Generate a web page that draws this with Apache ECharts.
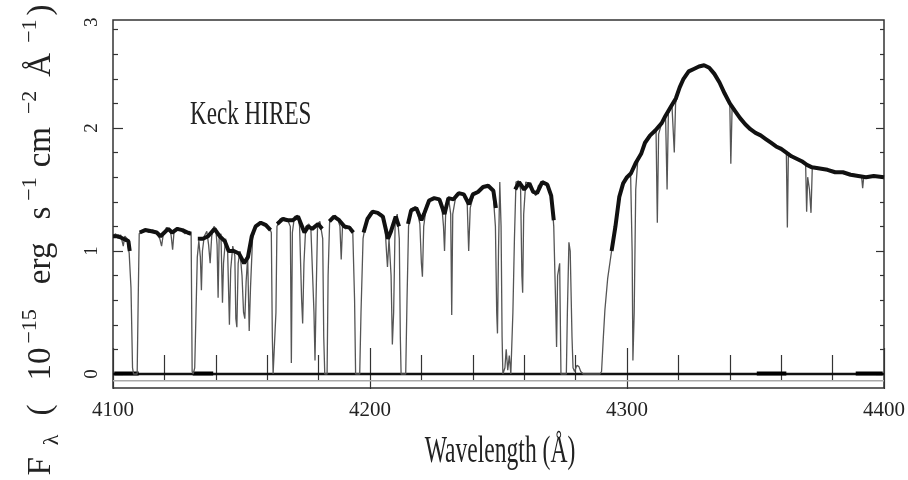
<!DOCTYPE html>
<html><head><meta charset="utf-8">
<script src="https://cdn.jsdelivr.net/npm/echarts@6/dist/echarts.min.js"></script>
<style>html,body{margin:0;padding:0;background:#fff}#c{width:908px;height:480px}</style>
</head><body><div id="c"></div>
<script>
// ---- data (wavelength in Angstrom, flux in 1e-15 erg/s/cm2/A) ----
const xRange = [4100, 4400];
const yRange = [-0.114, 2.878];
const yMajorTicks = [0, 1, 2];
const yMinorTicks = [0.2, 0.4, 0.6, 0.8, 1.2, 1.4, 1.6, 1.8, 2.2, 2.4, 2.6, 2.8];
const yLabelValues = [0, 1, 2, 2.86];
const yLabelTexts = ['0', '1', '2', '3'];

// full spectrum (thin trace incl. absorption lines)
const spectrum = [
[4100.0,1.12],[4101.0,1.14],[4102.0,1.10],[4103.0,1.13],[4104.0,1.04],[4104.6,1.12],[4105.5,1.10],[4106.3,0.98],[4107.0,0.70],[4107.6,0.05],[4108.0,0.00],[4109.4,0.00],[4109.8,0.60],[4110.2,1.14],
[4111.0,1.16],[4112.5,1.17],[4114.0,1.15],[4115.5,1.17],[4117.0,1.14],[4118.2,1.10],[4118.9,1.04],[4119.6,1.14],[4120.8,1.19],[4122.0,1.18],[4122.6,1.13],[4123.2,1.01],[4123.8,1.17],[4125.0,1.19],[4126.5,1.17],[4128.0,1.14],[4129.5,1.16],[4130.4,1.14],
[4130.8,0.02],[4131.2,0.00],[4131.8,0.05],[4132.3,0.50],[4132.8,0.95],[4133.4,1.08],[4134.0,0.95],[4134.4,0.68],[4134.8,1.00],[4135.5,1.12],[4136.5,1.16],[4137.2,1.05],[4137.8,0.90],[4138.4,1.12],[4139.3,1.20],[4140.0,1.18],
[4140.5,1.05],[4140.9,0.62],[4141.3,1.10],[4142.0,1.14],[4142.6,0.58],[4143.0,0.90],[4143.8,1.10],[4144.6,1.00],[4145.3,0.40],[4145.8,0.85],[4146.6,1.04],[4147.4,0.96],[4147.8,0.45],[4148.2,0.38],[4148.7,0.90],[4149.4,1.00],[4150.2,0.80],[4150.8,0.50],[4151.3,0.45],[4151.8,0.75],[4152.4,0.95],[4153.0,0.35],[4153.5,0.70],[4154.3,1.10],[4155.5,1.20],[4157.0,1.23],[4158.5,1.23],[4160.0,1.20],[4161.0,1.18],
[4161.6,1.15],[4162.0,0.30],[4162.3,0.00],[4163.0,0.00],[4163.4,0.50],[4163.8,1.20],[4165.0,1.26],[4166.5,1.27],[4168.0,1.25],[4169.0,1.20],[4169.4,0.09],[4169.8,1.15],[4170.6,1.28],[4171.8,1.29],[4172.6,1.20],[4173.4,0.60],[4173.8,0.41],[4174.3,0.90],[4175.0,1.20],[4176.2,1.22],[4177.0,1.18],[4178.2,0.50],[4178.6,0.11],[4179.0,0.60],[4179.6,1.22],[4180.5,1.24],[4181.6,1.10],[4182.0,0.30],[4182.4,0.00],[4183.3,0.00],[4183.7,0.80],[4184.3,1.25],[4185.5,1.28],[4186.5,1.29],[4187.5,1.26],[4188.3,1.20],[4188.8,0.93],[4189.3,1.20],[4190.5,1.18],[4192.0,1.20],[4193.3,1.15],[4194.0,0.60],[4194.4,0.00],[4196.0,0.00],[4196.5,0.50],[4197.3,1.10],[4198.5,1.25],
[4200.0,1.31],[4201.5,1.32],[4203.0,1.31],[4204.5,1.30],[4205.7,1.25],[4206.4,1.00],[4206.8,0.87],[4207.4,1.10],[4208.2,0.80],[4208.7,0.24],[4209.2,0.50],[4209.8,1.25],[4210.6,1.30],[4211.4,1.10],[4211.8,0.30],[4212.1,0.00],[4213.9,0.00],[4214.4,0.60],[4215.0,1.20],[4216.0,1.34],[4217.5,1.36],[4218.6,1.30],[4219.4,1.22],[4220.0,0.90],[4220.4,0.79],[4220.9,1.20],[4222.0,1.38],[4223.5,1.42],[4225.0,1.43],[4226.5,1.42],[4227.8,1.40],[4228.6,1.20],[4229.0,1.00],[4229.5,1.35],[4230.5,1.44],[4231.4,1.30],[4231.8,0.48],[4232.2,1.30],[4233.5,1.46],[4235.0,1.47],[4236.5,1.46],[4237.8,1.40],[4238.4,1.00],[4239.0,1.35],[4240.5,1.47],[4242.0,1.48],[4243.5,1.52],[4245.0,1.53],[4246.5,1.52],[4247.8,1.50],[4248.8,1.20],[4249.3,0.50],[4249.6,0.33],[4250.0,1.00],[4250.5,1.56],[4251.0,1.20],[4251.4,0.30],[4251.7,0.00],[4252.5,0.05],[4253.0,0.20],[4253.6,0.03],[4254.2,0.15],[4254.8,0.00],[4255.2,0.00],[4255.6,0.50],[4256.2,1.10],[4256.8,1.56],[4257.8,1.57],[4258.6,1.50],[4259.1,0.80],[4259.4,0.66],[4259.8,1.30],[4260.6,1.56],[4262.0,1.55],[4263.5,1.48],[4264.5,1.45],[4265.5,1.53],[4267.0,1.56],[4268.5,1.55],[4269.8,1.50],[4270.8,1.40],[4271.5,1.20],[4272.2,0.60],[4272.6,0.22],[4273.0,0.80],[4273.8,0.90],[4274.3,0.00],[4276.4,0.00],[4276.8,0.50],[4277.4,1.07],[4277.9,1.00],[4278.6,0.30],[4279.0,0.05],[4279.6,0.02],[4280.5,0.07],[4281.3,0.06],[4282.0,0.02],[4283.0,0.00],[4289.5,0.00],[4290.1,0.02],[4290.8,0.30],[4291.4,0.52],[4292.5,0.78],[4294.0,1.00],[4295.5,1.20],[4297.1,1.45],[4298.5,1.55],
[4300.0,1.60],[4301.4,1.63],[4302.0,1.00],[4302.3,0.11],[4302.8,0.50],[4303.4,1.50],[4304.2,1.74],[4305.5,1.79],[4307.0,1.88],[4308.5,1.93],[4310.0,1.96],[4311.3,1.98],[4311.8,1.23],[4312.3,1.95],[4313.5,2.04],[4315.0,2.10],[4315.6,1.50],[4316.1,2.12],[4317.5,2.18],[4318.4,1.80],[4318.9,2.20],[4320.5,2.33],[4322.0,2.40],[4324.0,2.46],[4326.0,2.48],[4328.0,2.50],[4330.0,2.51],[4331.5,2.50],[4333.0,2.47],[4334.5,2.42],[4336.0,2.37],[4338.0,2.28],[4340.0,2.20],[4340.4,1.71],[4340.9,2.17],[4342.0,2.14],[4344.0,2.08],[4346.0,2.03],[4348.0,1.99],[4350.0,1.96],[4352.0,1.94],[4354.0,1.91],[4356.0,1.88],[4358.0,1.85],[4360.0,1.83],[4362.0,1.80],[4362.4,1.19],[4362.8,1.80],[4364.0,1.77],[4366.0,1.75],[4368.0,1.73],[4369.5,1.71],[4369.9,1.32],[4370.3,1.60],[4371.0,1.50],[4371.6,1.31],[4372.1,1.68],[4374.0,1.68],[4377.0,1.66],[4380.0,1.65],[4383.0,1.64],[4386.0,1.63],[4389.0,1.62],[4391.3,1.60],[4391.7,1.51],[4392.1,1.60],[4395.0,1.61],[4398.0,1.60],[4400.0,1.60]
];

// noisy continuum band (thick trace), null = gap
const band = [
[4100,1.12],[4102,1.12],[4104,1.10],[4106,1.08],[4106.5,1.00],[4106.6,null],
[4110.4,1.15],[4112.5,1.17],[4115,1.16],[4117,1.15],[4118.5,1.12],[4120,1.15],[4121.5,1.18],[4123,1.15],[4125,1.18],[4127,1.17],[4129,1.15],[4130.4,1.14],[4130.5,null],
[4133,1.10],[4135,1.10],[4137,1.12],[4139.5,1.18],[4141.5,1.12],[4143.5,1.08],[4145,1.00],[4147,1.00],[4149,0.98],[4151,0.90],[4152.5,0.95],[4154,1.12],[4155.5,1.20],[4157.5,1.23],[4159.5,1.21],[4161.3,1.17],[4161.4,null],
[4163.9,1.22],[4166,1.26],[4168,1.25],[4170,1.25],[4172,1.28],[4174.5,1.15],[4176,1.20],[4177.5,1.18],[4179.8,1.22],[4181.4,1.18],[4181.5,null],
[4184.2,1.24],[4186,1.28],[4188,1.25],[4190,1.20],[4192,1.19],[4193.5,1.15],[4193.6,null],
[4197.5,1.15],[4199,1.26],[4201,1.32],[4203,1.31],[4205,1.28],[4207,1.10],[4208,1.15],[4210,1.28],[4211.3,1.20],[4211.4,null],
[4214.8,1.22],[4216,1.33],[4218,1.35],[4220,1.25],[4221,1.30],[4223,1.41],[4225,1.43],[4227,1.42],[4229,1.30],[4230.5,1.43],[4232.5,1.42],[4234.5,1.47],[4236.5,1.46],[4238.5,1.38],[4240,1.46],[4242,1.48],[4244,1.52],[4246,1.53],[4248,1.49],[4249,1.35],[4249.1,null],
[4256.5,1.50],[4258,1.56],[4260,1.50],[4262,1.55],[4263.5,1.48],[4265,1.47],[4267,1.56],[4269,1.54],[4270.5,1.45],[4271.5,1.25],[4271.6,null],
[4294,1.00],[4295.5,1.20],[4297,1.44],[4298.5,1.55],[4300,1.60],[4301.5,1.63],[4303.5,1.72],[4305.5,1.79],[4307,1.88],[4309,1.94],[4311,1.98],[4313.5,2.04],[4315,2.10],[4317,2.17],[4319,2.24],[4320.5,2.33],[4322,2.40],[4324,2.46],[4326,2.48],[4328,2.50],[4330,2.51],[4332,2.49],[4334,2.44],[4336,2.37],[4338,2.28],[4340,2.20],[4342,2.14],[4344,2.08],[4346,2.03],[4348,1.99],[4350,1.96],[4352,1.94],[4354,1.91],[4356,1.88],[4358,1.85],[4360,1.83],[4362,1.80],[4364,1.77],[4366,1.75],[4368,1.73],[4370,1.70],[4372,1.68],[4375,1.67],[4378,1.66],[4381,1.64],[4384,1.64],[4387,1.62],[4390,1.61],[4393,1.60],[4396,1.61],[4400,1.60]
];

// zero level and its darker noisy stretches
const zeroLevel = [[4100, 0], [4400, 0]];
const zeroNoise = [[4100.5,0.004],[4110,0.004],[4110.1,null],[4131,0.004],[4139,0.004],[4139.1,null],[4350.5,0.004],[4362,0.004],[4362.1,null],[4389,0.004],[4399.5,0.004]];
const zeroShadow = [[4100, -0.055], [4400, -0.055]];

// ---- chart ----
const chart = echarts.init(document.getElementById('c'), null, {renderer: 'canvas'});
const tickColor = '#333';
const serif = 'Liberation Serif';

function xAx(pos, majLen, minLen, showLabel) {
  return {
    type: 'value', position: pos, min: xRange[0], max: xRange[1], interval: 100,
    axisLine: {show: false},
    axisTick: {show: true, inside: true, length: majLen, lineStyle: {color: tickColor, width: 1.2}},
    minorTick: {show: true, splitNumber: 5, length: minLen, lineStyle: {color: tickColor, width: 1.2}},
    axisLabel: {show: showLabel, margin: 12, fontFamily: serif, fontSize: 21, color: '#222',
                formatter: function (v) { return String(v); }},
    splitLine: {show: false}, minorSplitLine: {show: false}
  };
}
function yAx(pos, ticks, len, showLabel) {
  return {
    type: 'value', position: pos, min: yRange[0], max: yRange[1],
    axisLine: {show: false},
    axisTick: {show: true, inside: true, length: len, customValues: ticks, lineStyle: {color: tickColor, width: 1.2}},
    axisLabel: showLabel ? {
      show: true, customValues: yLabelValues, rotate: 90, margin: 11,
      fontFamily: serif, fontSize: 19, color: '#222',
      formatter: function (v) { const i = yLabelValues.indexOf(v); return i >= 0 ? yLabelTexts[i] : ''; }
    } : {show: false},
    splitLine: {show: false}
  };
}

chart.setOption({
  animation: false,
  backgroundColor: '#fff',
  grid: {left: 113, right: 23.5, top: 20, bottom: 92, show: true, borderColor: '#333', borderWidth: 1.5, backgroundColor: 'transparent'},
  xAxis: [xAx('bottom', 26, 19, true), xAx('top', 15, 7, false)],
  yAxis: [yAx('left', yMajorTicks, 10, true), yAx('left', yMinorTicks, 5, false),
          yAx('right', yMajorTicks, 8, false), yAx('right', yMinorTicks, 4, false)],
  series: [
    {type: 'line', data: zeroShadow, showSymbol: false, lineStyle: {color: '#aaa', width: 1.5}, silent: true},
    {type: 'line', data: zeroLevel, showSymbol: false, lineStyle: {color: '#111', width: 2.5}, silent: true},
    {type: 'line', data: zeroNoise, showSymbol: false, connectNulls: false, lineStyle: {color: '#000', width: 4}, silent: true},
    {type: 'line', data: spectrum, showSymbol: false, lineStyle: {color: '#555', width: 1.3}, silent: true},
    {type: 'line', data: band, showSymbol: false, connectNulls: false, lineStyle: {color: '#111', width: 4}, silent: true}
  ],
  graphic: [
    {type: 'text', x: 190, y: 115, scaleX: 0.68, silent: true,
     style: {text: 'Keck HIRES', fontFamily: serif, fontSize: 34, fill: '#222', align: 'left', verticalAlign: 'middle'}},
    {type: 'text', x: 500, y: 452, scaleX: 0.62, silent: true,
     style: {text: 'Wavelength (Å)', fontFamily: serif, fontSize: 38, fill: '#222', align: 'center', verticalAlign: 'middle'}},
    {type: 'text', x: 41, y: 240, rotation: Math.PI / 2, silent: true,
     style: {
       text: '{a|F}{b|λ}{c|(}{d|10}{e|−15}{f|erg}{g|s}{h|−1}{i|cm}{j|−2}{k|Å}{l|−1}{m|)}',
       fontFamily: serif, fontSize: 33, fill: '#222', align: 'center', verticalAlign: 'middle',
       rich: {
         a: {fontFamily: serif, fontSize: 33, lineHeight: 44, verticalAlign: 'middle', fill: '#222'},
         b: {fontFamily: serif, fontSize: 22, verticalAlign: 'bottom', padding: [0, 0, 0, 12], fill: '#222'},
         c: {fontFamily: serif, fontSize: 33, lineHeight: 44, verticalAlign: 'middle', padding: [0, 0, 0, 19], fill: '#222'},
         d: {fontFamily: serif, fontSize: 33, lineHeight: 44, verticalAlign: 'middle', padding: [0, 0, 0, 24], fill: '#222'},
         e: {fontFamily: serif, fontSize: 22, verticalAlign: 'top', padding: [0, 0, 0, 4], fill: '#222'},
         f: {fontFamily: serif, fontSize: 33, lineHeight: 44, verticalAlign: 'middle', padding: [0, 0, 0, 25], fill: '#222'},
         g: {fontFamily: serif, fontSize: 33, lineHeight: 44, verticalAlign: 'middle', padding: [0, 0, 0, 23], fill: '#222'},
         h: {fontFamily: serif, fontSize: 22, verticalAlign: 'top', padding: [0, 0, 0, 6], fill: '#222'},
         i: {fontFamily: serif, fontSize: 33, lineHeight: 44, verticalAlign: 'middle', padding: [0, 0, 0, 10], fill: '#222'},
         j: {fontFamily: serif, fontSize: 22, verticalAlign: 'top', padding: [0, 0, 0, 13], fill: '#222'},
         k: {fontFamily: serif, fontSize: 33, lineHeight: 44, verticalAlign: 'middle', padding: [0, 0, 0, 14], fill: '#222'},
         l: {fontFamily: serif, fontSize: 22, verticalAlign: 'top', padding: [0, 0, 0, 10], fill: '#222'},
         m: {fontFamily: serif, fontSize: 33, lineHeight: 44, verticalAlign: 'middle', padding: [0, 0, 0, 4], fill: '#222'}
       }
     }}
  ]
});
</script></body></html>
